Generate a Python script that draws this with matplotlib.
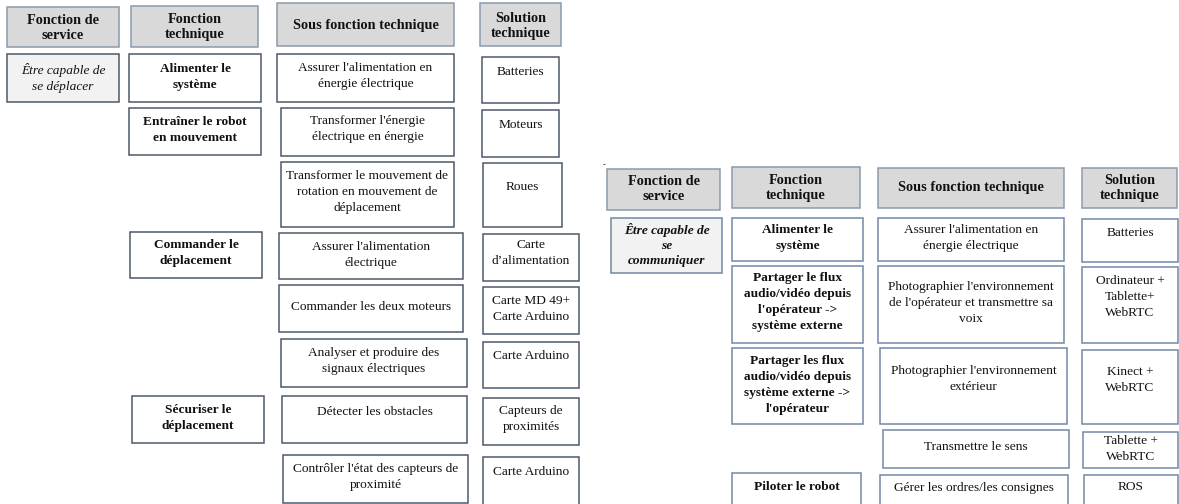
import matplotlib
matplotlib.use("Agg")
import matplotlib.pyplot as plt
from matplotlib.patches import Rectangle

# ---------------- data (texts) ----------------
headers = ["Fonction de\nservice", "Fonction\ntechnique", "Sous fonction technique", "Solution\ntechnique"]

left_service = ["Être capable de\nse déplacer"]
left_fonctions = ["Alimenter le\nsystème", "Entraîner le robot\nen mouvement",
                  "Commander le\ndéplacement", "Sécuriser le\ndéplacement"]
left_sous = ["Assurer l'alimentation en\nénergie électrique",
             "Transformer l'énergie\nélectrique en énergie",
             "Transformer le mouvement de\nrotation en mouvement de\ndéplacement",
             "Assurer l'alimentation\nélectrique",
             "Commander les deux moteurs",
             "Analyser et produire des\nsignaux électriques",
             "Détecter les obstacles",
             "Contrôler l'état des capteurs de\nproximité"]
left_solutions = ["Batteries", "Moteurs", "Roues", "Carte\nd’alimentation",
                  "Carte MD 49+\nCarte Arduino", "Carte Arduino",
                  "Capteurs de\nproximités", "Carte Arduino"]

right_service = ["Être capable de\nse\ncommuniquer"]
right_fonctions = ["Alimenter le\nsystème",
                   "Partager le flux\naudio/vidéo depuis\nl'opérateur ->\nsystème externe",
                   "Partager les flux\naudio/vidéo depuis\nsystème externe ->\nl'opérateur",
                   "Piloter le robot"]
right_sous = ["Assurer l'alimentation en\nénergie électrique",
              "Photographier l'environnement\nde l'opérateur et transmettre sa\nvoix",
              "Photographier l'environnement\nextérieur",
              "Transmettre le sens",
              "Gérer les ordres/les consignes"]
right_solutions = ["Batteries", "Ordinateur +\nTablette+\nWebRTC", "Kinect +\nWebRTC",
                   "Tablette +\nWebRTC", "ROS"]

# ---------------- layout (pixel boxes: x0, y0, x1, y1, text-centre y) ----------------
L_head = [(7, 7, 119, 47, 28), (131, 6, 258, 47, 27), (277, 3, 454, 46, 25), (480, 3, 561, 46, 26)]
L_serv = [(7, 54, 119, 102, 78)]
L_fonc = [(129, 54, 261, 102, 77), (129, 108, 261, 155, 130), (130, 232, 262, 278, 253),
          (132, 396, 264, 443, 418)]
L_sous = [(277, 54, 454, 102, 76), (281, 108, 454, 156, 129), (281, 162, 454, 227, 192),
          (279, 233, 463, 279, 255), (279, 285, 463, 332, 307), (281, 339, 467, 387, 361),
          (282, 396, 467, 443, 412), (283, 455, 468, 503, 477)]
L_sol = [(482, 57, 559, 103, 72), (482, 110, 559, 157, 125), (483, 163, 562, 227, 187),
         (483, 234, 579, 281, 253), (483, 287, 579, 334, 309), (483, 342, 579, 388, 356),
         (483, 398, 579, 445, 419), (483, 457, 579, 506, 472)]

R_head = [(607, 169, 720, 210, 189), (732, 167, 860, 208, 188), (878, 168, 1064, 208, 187),
          (1082, 168, 1177, 208, 188)]
R_serv = [(611, 218, 722, 273, 245)]
R_fonc = [(732, 218, 863, 261, 238), (732, 266, 863, 343, 302), (732, 348, 863, 424, 385),
          (732, 473, 861, 506, 487)]
R_sous = [(878, 218, 1064, 261, 238), (878, 266, 1064, 343, 303), (880, 348, 1067, 424, 379),
          (883, 430, 1069, 468, 447), (880, 475, 1068, 506, 488)]
R_sol = [(1082, 219, 1178, 262, 233), (1082, 267, 1178, 343, 297), (1082, 350, 1178, 424, 380),
         (1083, 432, 1178, 468, 449), (1084, 475, 1178, 506, 487)]

FONT = "Liberation Serif"
HEAD_FILL = "#d9d9d9"
SERV_FILL = "#f2f2f2"
L_EDGE = "#4d5a6b"
R_EDGE = "#7288a6"
HEAD_EDGE = "#8c9aae"
HEAD_SIZE = 10.3
BODY_SIZE = 9.6

fig = plt.figure(figsize=(11.79, 5.04), dpi=100)
ax = fig.add_axes([0, 0, 1, 1])
ax.set_xlim(0, 1179)
ax.set_ylim(504, 0)
ax.axis("off")


def draw(boxes, texts, fill, edge, size, weight="normal", style="normal", ls=1.4):
    for (x0, y0, x1, y1, ty), t in zip(boxes, texts):
        ax.add_patch(Rectangle((x0, y0), x1 - x0, y1 - y0, facecolor=fill,
                               edgecolor=edge, linewidth=1.1, clip_on=False))
        ax.text((x0 + x1) / 2, ty, t, ha="center", va="center", multialignment="center",
                fontsize=size, fontweight=weight, fontstyle=style, family=FONT,
                linespacing=ls, color="#111111")


# left diagram
draw(L_head, headers, HEAD_FILL, HEAD_EDGE, HEAD_SIZE, "bold", ls=1.18)
draw(L_serv, left_service, SERV_FILL, L_EDGE, BODY_SIZE, "normal", "italic", ls=1.34)
draw(L_fonc, left_fonctions, "white", L_EDGE, BODY_SIZE, "bold", ls=1.34)
draw(L_sous, left_sous, "white", L_EDGE, BODY_SIZE)
draw(L_sol, left_solutions, "white", L_EDGE, BODY_SIZE)

# right diagram
draw(R_head, headers, HEAD_FILL, HEAD_EDGE, HEAD_SIZE, "bold", ls=1.18)
draw(R_serv, right_service, SERV_FILL, R_EDGE, BODY_SIZE, "bold", "italic", ls=1.34)
draw(R_fonc, right_fonctions, "white", R_EDGE, BODY_SIZE, "bold", ls=1.45)
draw(R_sous, right_sous, "white", R_EDGE, BODY_SIZE, ls=1.45)
draw(R_sol, right_solutions, "white", R_EDGE, BODY_SIZE, ls=1.45)

ax.text(604, 165, "-", ha="center", va="center", fontsize=6, family=FONT)

fig.savefig("out.png", dpi=100)
